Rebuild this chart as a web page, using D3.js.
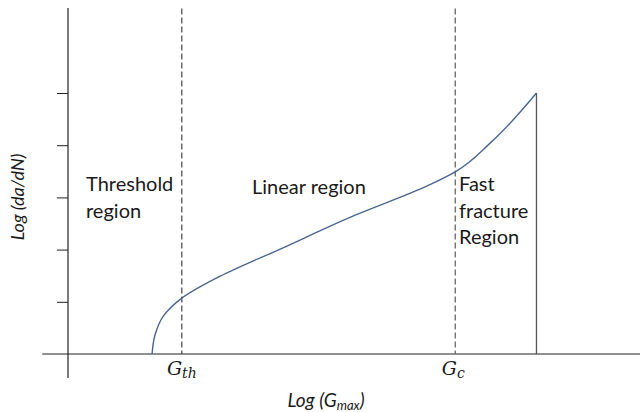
<!DOCTYPE html>
<html>
<head>
<meta charset="utf-8">
<script src="https://cdn.jsdelivr.net/npm/d3@7"></script>
<style>
  html, body { margin: 0; padding: 0; background: #fff; }
  svg { display: block; }
  .lbl { font-family: Lato, "Open Sans", sans-serif; fill: #1a1a1a; }
  .math { font-family: "DejaVu Serif", "Liberation Serif", serif; font-style: italic; fill: #1a1a1a; }
</style>
</head>
<body>
<svg id="chart" width="640" height="412"></svg>
<script>
// ---- data ----
const curveX = [1.47, 1.52, 1.67, 1.99, 2.66, 3.71, 5.00, 6.28, 6.77, 7.38, 8.19];
const curveY = [0.00, 0.36, 0.73, 1.07, 1.49, 2.01, 2.65, 3.22, 3.49, 4.04, 5.00];
const yTicks = [1, 2, 3, 4, 5];
const thresholdX = 1.99;   // G_th
const criticalX = 6.77;    // G_c
const fractureX = 8.19;    // end of curve (vertical drop)
const xAxisTitle = "Log (G";
const yAxisTitle = "Log (da/dN)";

// ---- scales ----
const svg = d3.select("#chart");
const x = d3.scaleLinear().domain([0, 10]).range([68, 640]);
const y = d3.scaleLinear().domain([0, 5]).range([354, 93]);
const xExt = [-0.45, 10];
const yExt = [-0.46, 6.63];

// y ticks (no labels)
const yAxis = d3.axisLeft(y).tickValues(yTicks).tickSize(11).tickFormat("");
const gy = svg.append("g").attr("transform", `translate(${x(0)},0)`).call(yAxis);
gy.select(".domain").remove();
gy.selectAll(".tick line").attr("stroke", "#222").attr("stroke-width", 1);

// axis lines
svg.append("line")
  .attr("x1", x(0)).attr("x2", x(0))
  .attr("y1", y(yExt[1])).attr("y2", y(yExt[0]))
  .attr("stroke", "#222").attr("stroke-width", 1.2);
svg.append("line")
  .attr("x1", x(xExt[0])).attr("x2", x(xExt[1]))
  .attr("y1", y(0)).attr("y2", y(0))
  .attr("stroke", "#222").attr("stroke-width", 1.2);

// dashed lines
svg.append("line")
  .attr("x1", x(thresholdX)).attr("x2", x(thresholdX))
  .attr("y1", y(6.62)).attr("y2", y(0))
  .attr("stroke", "#333").attr("stroke-width", 1.1).attr("stroke-dasharray", "6,3");
svg.append("line")
  .attr("x1", x(criticalX)).attr("x2", x(criticalX))
  .attr("y1", y(6.62)).attr("y2", y(0))
  .attr("stroke", "#666").attr("stroke-width", 1.3).attr("stroke-dasharray", "6,3");

// vertical drop line
svg.append("line")
  .attr("x1", x(fractureX)).attr("x2", x(fractureX))
  .attr("y1", y(5)).attr("y2", y(0))
  .attr("stroke", "#555").attr("stroke-width", 1.3);

// curve
const pts = curveX.map((v, i) => [v, curveY[i]]);
svg.append("path")
  .datum(pts)
  .attr("fill", "none")
  .attr("stroke", "#4a6690")
  .attr("stroke-width", 1.4)
  .attr("d", d3.line().x(d => x(d[0])).y(d => y(d[1])).curve(d3.curveMonotoneY));

// region labels
const fs = 20;
function multi(lines, px, py, lh) {
  const t = svg.append("text").attr("class", "lbl").attr("font-size", fs).attr("x", px).attr("y", py);
  lines.forEach((l, i) => t.append("tspan").attr("x", px).attr("dy", i === 0 ? 0 : lh).text(l));
}
multi(["Threshold", "region"], 86, 191, 27);
multi(["Linear region"], 252, 194, 27);
multi(["Fast", "fracture", "Region"], 459, 191, 26.5);

// x tick math labels
const gth = svg.append("text").attr("class", "math").attr("x", x(thresholdX)).attr("y", 375).attr("text-anchor", "middle").attr("font-size", 19);
gth.append("tspan").text("G");
gth.append("tspan").attr("font-size", 14).attr("dy", 3).text("th");
const gc = svg.append("text").attr("class", "math").attr("x", x(criticalX) - 2).attr("y", 375).attr("text-anchor", "middle").attr("font-size", 19);
gc.append("tspan").text("G");
gc.append("tspan").attr("font-size", 14).attr("dy", 3).text("c");

// axis titles
const xt = svg.append("text").attr("class", "lbl").attr("font-style", "italic").attr("font-size", 19)
  .attr("x", 326).attr("y", 407).attr("text-anchor", "middle");
xt.append("tspan").text(xAxisTitle);
xt.append("tspan").attr("font-size", 13).attr("dy", 3).text("max");
xt.append("tspan").attr("dy", -3).text(")");

svg.append("text").attr("class", "lbl").attr("font-style", "italic").attr("font-size", 18)
  .attr("transform", "translate(24,197) rotate(-90)").attr("text-anchor", "middle")
  .text(yAxisTitle);
</script>
</body>
</html>
